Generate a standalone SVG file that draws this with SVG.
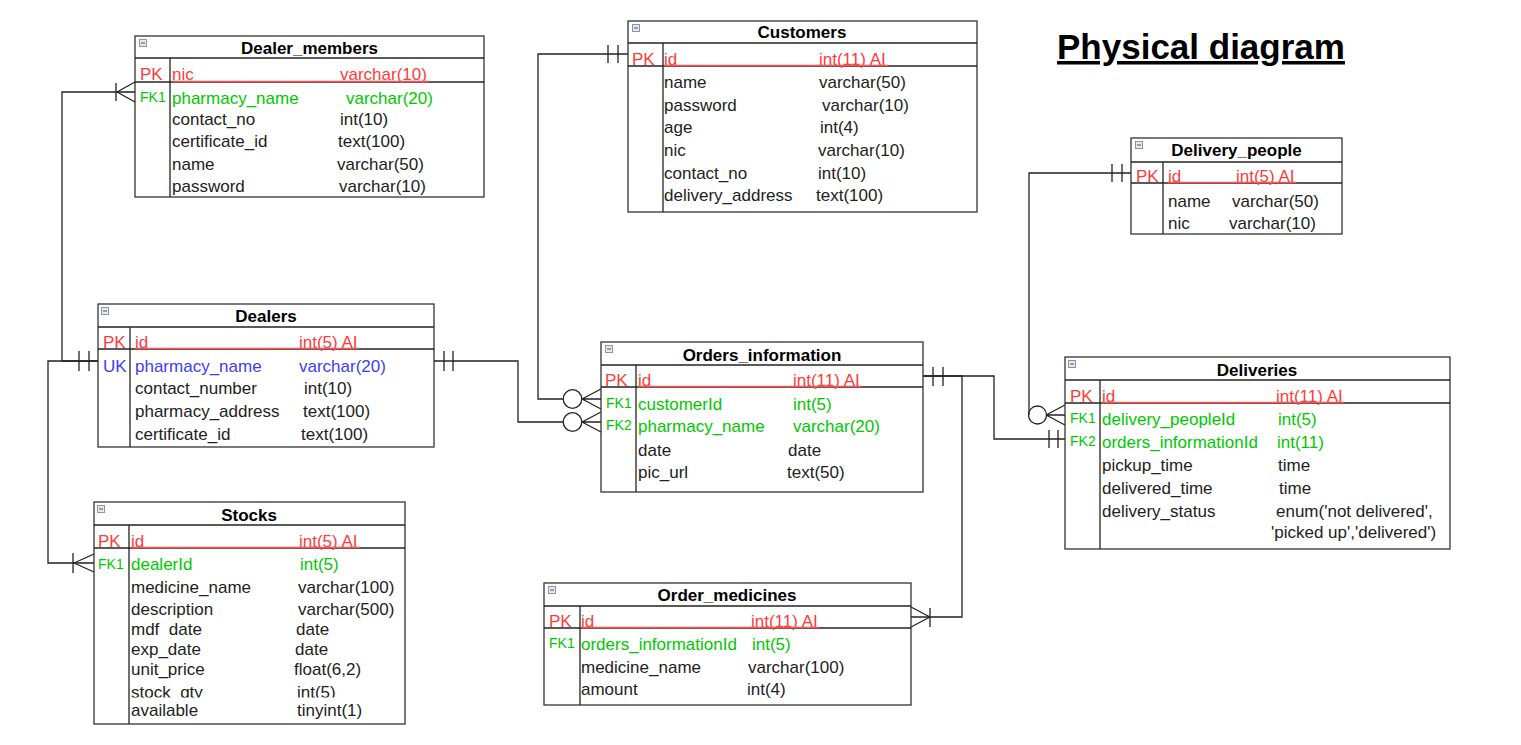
<svg xmlns="http://www.w3.org/2000/svg" xmlns:xlink="http://www.w3.org/1999/xlink" width="1521" height="745" viewBox="0 0 1521 745">
<style>
.box{fill:#fff;stroke:#333;stroke-width:1.3}
.sep{stroke:#222;stroke-width:1.5}
.div{stroke:#222;stroke-width:1.3}
.ln{stroke:#222;stroke-width:1.3;fill:none}
.ul{stroke:#ff5050;stroke-width:1.3}
text{font-family:"Liberation Sans",Arial,sans-serif;font-size:17px;fill:#222}
.h{font-weight:bold;text-anchor:middle;fill:#000}
.r{fill:#ff3b3b}
.g{fill:#00c800}
.b{fill:#3c3cff}
.k{font-size:14px}
.title{font-size:35px;font-weight:bold;fill:#000;text-decoration:underline}
</style>
<defs>
<g id="ic"><rect x="0.5" y="0.5" width="7" height="7" fill="#e4e9ee" stroke="#8a96a3" stroke-width="1"/><line x1="2" y1="4" x2="6" y2="4" stroke="#4a5563" stroke-width="1"/></g>
<clipPath id="cMdf"><rect x="129" y="600" width="276" height="36.5"/></clipPath>
<clipPath id="cQty"><rect x="129" y="680" width="276" height="17.5"/></clipPath>
</defs>
<rect width="1521" height="745" fill="#fff"/>

<text x="1057" y="59" class="title">Physical diagram</text>

<g id="connectors">
  <!-- Dealers -> Dealer_members -->
  <path class="ln" d="M135 92 H62 V361 H98"/>
  <path class="ln" d="M117 92 L135 82 M117 92 L135 102 M116 83 V101"/>
  <path class="ln" d="M79 351 V371 M89 351 V371"/>
  <!-- Dealers -> Stocks -->
  <path class="ln" d="M98 361 H48 V563 H94"/>
  <path class="ln" d="M74 563 L94 554 M74 563 L94 572 M73 553 V573"/>
  <!-- Customers -> Orders_information -->
  <path class="ln" d="M628 54 H538 V399 H563"/>
  <path class="ln" d="M608 45 V63 M618 45 V63"/>
  <circle class="ln" cx="572.5" cy="399" r="9.3"/>
  <path class="ln" d="M582 399 H601 M582 399 L601 389 M582 399 L601 409"/>
  <!-- Dealers -> Orders_information -->
  <path class="ln" d="M434 361 H518 V422 H563"/>
  <path class="ln" d="M444 351 V371 M453 351 V371"/>
  <circle class="ln" cx="572.5" cy="422" r="9.3"/>
  <path class="ln" d="M582 422 H601 M582 422 L601 412 M582 422 L601 432"/>
  <!-- Orders_information -> Order_medicines -->
  <path class="ln" d="M923 376 H962 V617 H911"/>
  <path class="ln" d="M933 367 V386 M943 367 V386"/>
  <path class="ln" d="M930 617 L911 607 M930 617 L911 627 M930 608 V627"/>
  <!-- Orders_information -> Deliveries -->
  <path class="ln" d="M923 376 H994 V439 H1065"/>
  <path class="ln" d="M1049 430 V448 M1058 430 V448"/>
  <!-- Delivery_people -> Deliveries -->
  <path class="ln" d="M1131 173 H1029 V415"/>
  <path class="ln" d="M1112 164 V182 M1122 164 V182"/>
  <circle class="ln" cx="1037.5" cy="415" r="9"/>
  <path class="ln" d="M1046 415 H1065 M1046 415 L1065 405 M1046 415 L1065 425"/>
</g>

<g id="dealer_members">
  <rect class="box" x="135" y="36" width="349" height="161"/>
  <use xlink:href="#ic" x="139" y="39"/>
  <line class="sep" x1="135" y1="58" x2="484" y2="58"/>
  <line class="sep" x1="135" y1="82" x2="484" y2="82"/>
  <line class="div" x1="170" y1="58" x2="170" y2="197"/>
  <text x="309.5" y="54" class="h">Dealer_members</text>
  <text x="140" y="80" class="r">PK</text>
  <text x="172" y="80" class="r">nic</text>
  <text x="340" y="80" class="r">varchar(10)</text>
  <line class="ul" x1="172" y1="81.5" x2="429" y2="81.5"/>
  <text x="140" y="102" class="g k">FK1</text>
  <text x="172" y="104" class="g">pharmacy_name</text>
  <text x="346" y="104" class="g">varchar(20)</text>
  <text x="172" y="125">contact_no</text>
  <text x="340" y="125">int(10)</text>
  <text x="172" y="147">certificate_id</text>
  <text x="338" y="147">text(100)</text>
  <text x="172" y="170">name</text>
  <text x="337" y="170">varchar(50)</text>
  <text x="172" y="192">password</text>
  <text x="339" y="192">varchar(10)</text>
</g>

<g id="customers">
  <rect class="box" x="628" y="21" width="349" height="191"/>
  <use xlink:href="#ic" x="632" y="24"/>
  <line class="sep" x1="628" y1="43" x2="977" y2="43"/>
  <line class="sep" x1="628" y1="66" x2="977" y2="66"/>
  <line class="div" x1="663" y1="43" x2="663" y2="212"/>
  <text x="802" y="38" class="h">Customers</text>
  <text x="632" y="65" class="r">PK</text>
  <text x="664" y="65" class="r">id</text>
  <text x="819" y="65" class="r">int(11) AI</text>
  <line class="ul" x1="664" y1="65.5" x2="888" y2="65.5"/>
  <text x="664" y="88">name</text>
  <text x="819" y="88">varchar(50)</text>
  <text x="664" y="110.5">password</text>
  <text x="822" y="110.5">varchar(10)</text>
  <text x="664" y="133">age</text>
  <text x="820" y="133">int(4)</text>
  <text x="664" y="156">nic</text>
  <text x="818" y="156">varchar(10)</text>
  <text x="664" y="178.5">contact_no</text>
  <text x="818" y="178.5">int(10)</text>
  <text x="664" y="201">delivery_address</text>
  <text x="816" y="201">text(100)</text>
</g>

<g id="delivery_people">
  <rect class="box" x="1131" y="138" width="211" height="96"/>
  <use xlink:href="#ic" x="1135" y="141"/>
  <line class="sep" x1="1131" y1="162" x2="1342" y2="162"/>
  <line class="sep" x1="1131" y1="183" x2="1342" y2="183"/>
  <line class="div" x1="1163" y1="162" x2="1163" y2="234"/>
  <text x="1236.5" y="156" class="h">Delivery_people</text>
  <text x="1136" y="182" class="r">PK</text>
  <text x="1168" y="182" class="r">id</text>
  <text x="1236" y="182" class="r">int(5) AI</text>
  <line class="ul" x1="1168" y1="182.5" x2="1296" y2="182.5"/>
  <text x="1168" y="207">name</text>
  <text x="1232" y="207">varchar(50)</text>
  <text x="1168" y="229">nic</text>
  <text x="1229" y="229">varchar(10)</text>
</g>

<g id="dealers">
  <rect class="box" x="98" y="304" width="336" height="143"/>
  <use xlink:href="#ic" x="101" y="307"/>
  <line class="sep" x1="98" y1="327" x2="434" y2="327"/>
  <line class="sep" x1="98" y1="349" x2="434" y2="349"/>
  <line class="div" x1="130" y1="327" x2="130" y2="447"/>
  <text x="266" y="322" class="h">Dealers</text>
  <text x="103" y="348" class="r">PK</text>
  <text x="135" y="348" class="r">id</text>
  <text x="299" y="348" class="r">int(5) AI</text>
  <line class="ul" x1="135" y1="348.5" x2="359" y2="348.5"/>
  <text x="103" y="372" class="b">UK</text>
  <text x="135" y="372" class="b">pharmacy_name</text>
  <text x="299" y="372" class="b">varchar(20)</text>
  <text x="135" y="394">contact_number</text>
  <text x="304" y="394">int(10)</text>
  <text x="135" y="417">pharmacy_address</text>
  <text x="303" y="417">text(100)</text>
  <text x="135" y="440">certificate_id</text>
  <text x="301" y="440">text(100)</text>
</g>

<g id="orders_information">
  <rect class="box" x="601" y="342" width="322" height="150"/>
  <use xlink:href="#ic" x="605" y="345"/>
  <line class="sep" x1="601" y1="365" x2="923" y2="365"/>
  <line class="sep" x1="601" y1="387" x2="923" y2="387"/>
  <line class="div" x1="636" y1="365" x2="636" y2="492"/>
  <text x="762" y="361" class="h">Orders_information</text>
  <text x="605" y="386" class="r">PK</text>
  <text x="638" y="386" class="r">id</text>
  <text x="793" y="386" class="r">int(11) AI</text>
  <line class="ul" x1="638" y1="386.5" x2="862" y2="386.5"/>
  <text x="606" y="408" class="g k">FK1</text>
  <text x="638" y="410" class="g">customerId</text>
  <text x="793" y="410" class="g">int(5)</text>
  <text x="606" y="430" class="g k">FK2</text>
  <text x="638" y="432" class="g">pharmacy_name</text>
  <text x="793" y="432" class="g">varchar(20)</text>
  <text x="638" y="456">date</text>
  <text x="788" y="456">date</text>
  <text x="638" y="478">pic_url</text>
  <text x="787" y="478">text(50)</text>
</g>

<g id="deliveries">
  <rect class="box" x="1065" y="357" width="385" height="192"/>
  <use xlink:href="#ic" x="1068" y="360"/>
  <line class="sep" x1="1065" y1="380" x2="1450" y2="380"/>
  <line class="sep" x1="1065" y1="403" x2="1450" y2="403"/>
  <line class="div" x1="1100" y1="380" x2="1100" y2="549"/>
  <text x="1257" y="376" class="h">Deliveries</text>
  <text x="1070" y="402" class="r">PK</text>
  <text x="1102" y="402" class="r">id</text>
  <text x="1276" y="402" class="r">int(11) AI</text>
  <line class="ul" x1="1102" y1="402.5" x2="1344" y2="402.5"/>
  <text x="1070" y="423" class="g k">FK1</text>
  <text x="1102" y="425" class="g">delivery_peopleId</text>
  <text x="1278" y="425" class="g">int(5)</text>
  <text x="1070" y="446" class="g k">FK2</text>
  <text x="1102" y="448" class="g">orders_informationId</text>
  <text x="1277" y="448" class="g">int(11)</text>
  <text x="1102" y="471">pickup_time</text>
  <text x="1278" y="471">time</text>
  <text x="1102" y="494">delivered_time</text>
  <text x="1279" y="494">time</text>
  <text x="1102" y="517">delivery_status</text>
  <text x="1276" y="517">enum('not delivered',</text>
  <text x="1271" y="538">'picked up','delivered')</text>
</g>

<g id="stocks">
  <rect class="box" x="94" y="502" width="311" height="222"/>
  <use xlink:href="#ic" x="97" y="505"/>
  <line class="sep" x1="94" y1="525" x2="405" y2="525"/>
  <line class="sep" x1="94" y1="548" x2="405" y2="548"/>
  <line class="div" x1="129" y1="525" x2="129" y2="724"/>
  <text x="249" y="521" class="h">Stocks</text>
  <text x="98" y="547" class="r">PK</text>
  <text x="131" y="547" class="r">id</text>
  <text x="299" y="547" class="r">int(5) AI</text>
  <line class="ul" x1="131" y1="547.5" x2="360" y2="547.5"/>
  <text x="98" y="569" class="g k">FK1</text>
  <text x="131" y="570" class="g">dealerId</text>
  <text x="300" y="570" class="g">int(5)</text>
  <text x="131" y="593">medicine_name</text>
  <text x="298" y="593">varchar(100)</text>
  <text x="131" y="615">description</text>
  <text x="298" y="615">varchar(500)</text>
  <text x="131" y="635" clip-path="url(#cMdf)">mdf_date</text>
  <text x="296" y="635">date</text>
  <text x="131" y="655">exp_date</text>
  <text x="295" y="655">date</text>
  <text x="131" y="675">unit_price</text>
  <text x="294" y="675">float(6,2)</text>
  <text x="131" y="698" clip-path="url(#cQty)">stock_qty</text>
  <text x="297" y="698" clip-path="url(#cQty)">int(5)</text>
  <text x="131" y="716">available</text>
  <text x="297" y="716">tinyint(1)</text>
</g>

<g id="order_medicines">
  <rect class="box" x="544" y="583" width="367" height="122"/>
  <use xlink:href="#ic" x="548" y="586"/>
  <line class="sep" x1="544" y1="606" x2="911" y2="606"/>
  <line class="sep" x1="544" y1="628" x2="911" y2="628"/>
  <line class="div" x1="580" y1="606" x2="580" y2="705"/>
  <text x="727" y="601" class="h">Order_medicines</text>
  <text x="549" y="627" class="r">PK</text>
  <text x="581" y="627" class="r">id</text>
  <text x="751" y="627" class="r">int(11) AI</text>
  <line class="ul" x1="581" y1="627.5" x2="819" y2="627.5"/>
  <text x="549" y="648" class="g k">FK1</text>
  <text x="581" y="650" class="g">orders_informationId</text>
  <text x="752" y="650" class="g">int(5)</text>
  <text x="581" y="673">medicine_name</text>
  <text x="748" y="673">varchar(100)</text>
  <text x="581" y="695">amount</text>
  <text x="747" y="695">int(4)</text>
</g>
</svg>
